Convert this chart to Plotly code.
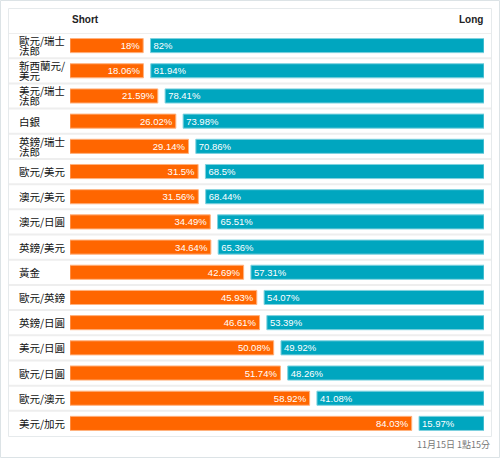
import plotly.graph_objects as go

categories = ["歐元/瑞士<br>法郎", "新西蘭元/<br>美元", "美元/瑞士<br>法郎", "白銀", "英鎊/瑞士<br>法郎",
              "歐元/美元", "澳元/美元", "澳元/日圓", "英鎊/美元", "黃金", "歐元/英鎊",
              "英鎊/日圓", "美元/日圓", "歐元/日圓", "歐元/澳元", "美元/加元"]
short_vals = [18, 18.06, 21.59, 26.02, 29.14, 31.5, 31.56, 34.49, 34.64, 42.69,
              45.93, 46.61, 50.08, 51.74, 58.92, 84.03]
long_vals = [82, 81.94, 78.41, 73.98, 70.86, 68.5, 68.44, 65.51, 65.36, 57.31,
             54.07, 53.39, 49.92, 48.26, 41.08, 15.97]
short_labels = ["18%", "18.06%", "21.59%", "26.02%", "29.14%", "31.5%", "31.56%", "34.49%",
                "34.64%", "42.69%", "45.93%", "46.61%", "50.08%", "51.74%", "58.92%", "84.03%"]
long_labels = ["82%", "81.94%", "78.41%", "73.98%", "70.86%", "68.5%", "68.44%", "65.51%",
               "65.36%", "57.31%", "54.07%", "53.39%", "49.92%", "48.26%", "41.08%", "15.97%"]
header_left = "Short"
header_right = "Long"
footer = "11月15日 1點15分"

W, H = 500, 458
GAP = 1.8
n = len(categories)
ids = list(range(n))
long_base = [s + GAP for s in short_vals]

CJK = "Noto Sans CJK TC, Noto Sans, sans-serif"
LAT = "Liberation Sans, Arial, sans-serif"

fig = go.Figure()
fig.add_trace(go.Bar(
    y=ids, x=short_vals, orientation="h", base=0,
    marker=dict(color="#ff6600", line=dict(color="#ffb27f", width=1)),
    text=short_labels, textposition="inside", insidetextanchor="end",
    textfont=dict(color="white", size=9.5, family=LAT), constraintext="none",
    hoverinfo="skip", showlegend=False,
))
fig.add_trace(go.Bar(
    y=ids, x=long_vals, orientation="h", base=long_base,
    marker=dict(color="#00a6bf", line=dict(color="#7fd2df", width=1)),
    text=long_labels, textposition="inside", insidetextanchor="start",
    textfont=dict(color="white", size=9.5, family=LAT), constraintext="none",
    hoverinfo="skip", showlegend=False,
))

top_px, bot_px = 33, 436
fig.update_layout(
    width=W, height=H, margin=dict(l=0, r=0, t=0, b=0),
    paper_bgcolor="white", plot_bgcolor="rgba(0,0,0,0)",
    barmode="overlay", bargap=0.44,
    xaxis=dict(domain=[70 / W, 484 / W], range=[0, 100 + GAP], visible=False, fixedrange=True),
    yaxis=dict(domain=[1 - bot_px / H, 1 - top_px / H], range=[n - 0.5, -0.5],
               visible=False, fixedrange=True),
)

shapes = []
# outer border
shapes.append(dict(type="rect", xref="paper", yref="paper", x0=0.5 / W, x1=1 - 0.5 / W,
                   y0=0.5 / H, y1=1 - 0.5 / H, line=dict(color="#dce3e6", width=1),
                   fillcolor="rgba(0,0,0,0)", layer="below"))
# inner table border
shapes.append(dict(type="rect", xref="paper", yref="paper", x0=8.5 / W, x1=491.5 / W,
                   y0=1 - 436.5 / H, y1=1 - 8.5 / H, line=dict(color="#e6eaec", width=1),
                   fillcolor="white", layer="below"))
# row separators
for i in range(n):
    shapes.append(dict(type="line", xref="paper", yref="y", x0=9 / W, x1=491 / W,
                       y0=i - 0.5, y1=i - 0.5, line=dict(color="#eeeeee", width=2), layer="below"))
fig.update_layout(shapes=shapes)

annotations = []
for i, lab in enumerate(categories):
    parts = lab.split("<br>")
    if len(parts) == 1:
        annotations.append(dict(xref="paper", yref="y", x=17 / W, y=i, text=parts[0],
                                xanchor="left", yanchor="middle", showarrow=False,
                                font=dict(family=CJK, size=10.5, color="#111")))
    else:
        for k, p in enumerate(parts):
            annotations.append(dict(xref="paper", yref="y", x=17 / W, y=i, text=p,
                                    xanchor="left", yanchor="middle", showarrow=False,
                                    yshift=5 - 10 * k,
                                    font=dict(family=CJK, size=10.5, color="#111")))
annotations.append(dict(xref="paper", yref="paper", x=70 / W, y=1 - 20 / H, text="<b>" + header_left + "</b>",
                        xanchor="left", yanchor="middle", showarrow=False,
                        font=dict(family=LAT, size=10, color="#222")))
annotations.append(dict(xref="paper", yref="paper", x=485 / W, y=1 - 20 / H, text="<b>" + header_right + "</b>",
                        xanchor="right", yanchor="middle", showarrow=False,
                        font=dict(family=LAT, size=10, color="#222")))
annotations.append(dict(xref="paper", yref="paper", x=492 / W, y=1 - 444 / H, text=footer,
                        xanchor="right", yanchor="middle", showarrow=False,
                        font=dict(family=CJK, size=9, color="#777")))
fig.update_layout(annotations=annotations)

fig.write_html("out.html", config={"displayModeBar": False},
               post_script="document.body.style.margin='0';document.body.style.overflow='hidden';")
